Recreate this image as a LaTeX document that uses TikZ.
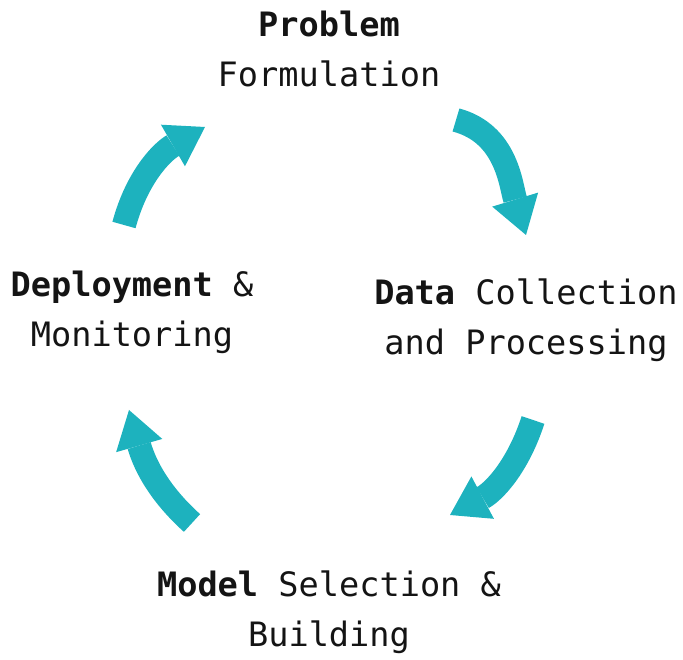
\documentclass[tikz,border=0pt]{standalone}
\usepackage{fontspec}
\setmainfont{DejaVu Sans Mono}
\usetikzlibrary{arrows.meta}
\definecolor{cyc}{RGB}{29,178,190}
\definecolor{ink}{RGB}{20,20,20}
\tikzset{
  lbl/.style={align=center, inner sep=0pt, anchor=base, text=ink,
    font=\fontsize{33.6}{50.5}\selectfont},
  flow/.style={draw=cyc, line width=24pt,
    -{Triangle[width=48pt,length=37pt,line width=0pt]}}
}
\begin{document}
\begin{tikzpicture}[x=1pt,y=1pt]
\useasboundingbox (0,0) rectangle (683,660);
\node[lbl] (prob) at (329,573) {\textbf{Problem}\\Formulation};
\node[lbl] (data) at (526,305) {\textbf{Data} Collection\\and Processing};
\node[lbl] (model) at (329,13) {\textbf{Model} Selection \&\\Building};
\node[lbl] (depl) at (132,313) {\textbf{Deployment} \&\\Monitoring};
\coordinate (a1s) at (124,435); \coordinate (a1e) at (205,533);
\coordinate (a2s) at (456,540); \coordinate (a2e) at (526,425);
\coordinate (a3s) at (533,240); \coordinate (a3e) at (450,145);
\coordinate (a4s) at (192,137); \coordinate (a4e) at (129,250);
\draw[flow] (a1s) to[out=75,in=210] (a1e);
\draw[flow] (a2s) to[out=-15,in=107] (a2e);
\draw[flow] (a3s) to[out=252,in=28] (a3e);
\draw[flow] (a4s) to[out=138,in=-74] (a4e);
\end{tikzpicture}
\end{document}
